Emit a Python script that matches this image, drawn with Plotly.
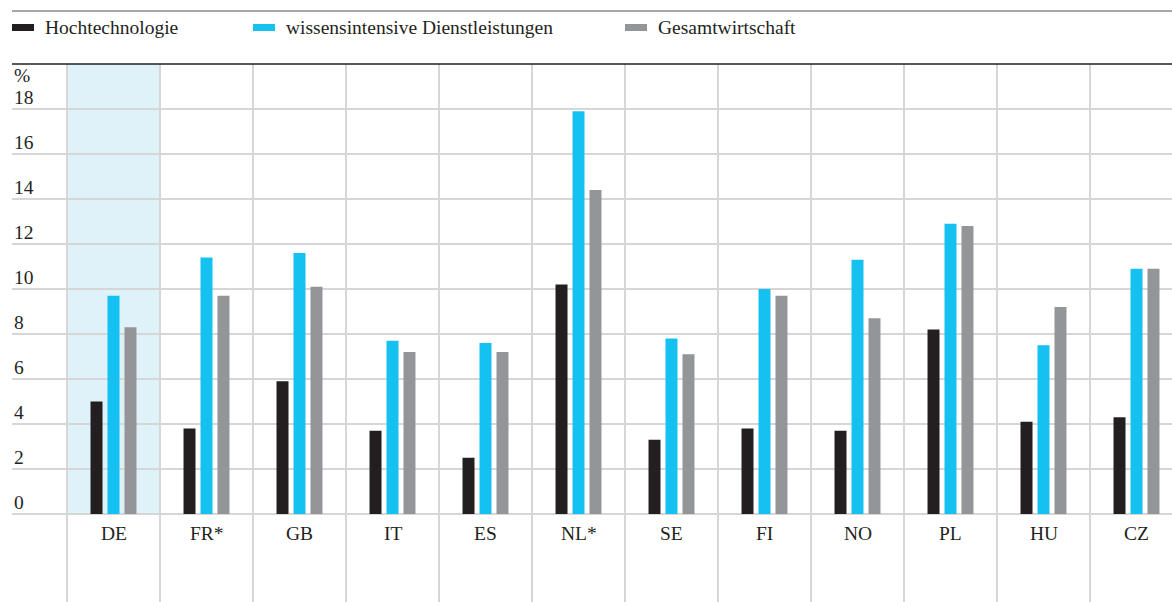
import plotly.graph_objects as go

countries = ["DE", "FR*", "GB", "IT", "ES", "NL*", "SE", "FI", "NO", "PL", "HU", "CZ"]
hochtechnologie = [5.0, 3.8, 5.9, 3.7, 2.5, 10.2, 3.3, 3.8, 3.7, 8.2, 4.1, 4.3]
dienstleistungen = [9.7, 11.4, 11.6, 7.7, 7.6, 17.9, 7.8, 10.0, 11.3, 12.9, 7.5, 10.9]
gesamtwirtschaft = [8.3, 9.7, 10.1, 7.2, 7.2, 14.4, 7.1, 9.7, 8.7, 12.8, 9.2, 10.9]
y_ticks = [0, 2, 4, 6, 8, 10, 12, 14, 16, 18]

names = ["Hochtechnologie", "wissensintensive Dienstleistungen", "Gesamtwirtschaft"]
colors = ["#231f20", "#15c1f0", "#939598"]
series = [hochtechnologie, dienstleistungen, gesamtwirtschaft]

W, H = 1172, 602
ml, mt = 12, 64
font = "Liberation Serif, Times New Roman, serif"
txt = "#231f20"

x = list(range(len(countries)))

fig = go.Figure()
for name, vals, col in zip(names, series, colors):
    fig.add_trace(go.Bar(x=x, y=vals, name=name, marker=dict(color=col, line=dict(width=0)),
                         showlegend=False))

# column width 93px, plot starts at x=12, first column at x=67
x0 = -0.5 - 55 / 93
x1 = -0.5 + (W - 67) / 93
y_top = 20
y_bot = y_top - (H - mt) / 22.5

fig.update_layout(
    width=W, height=H,
    margin=dict(l=ml, r=0, t=mt, b=0),
    paper_bgcolor="white", plot_bgcolor="white",
    barmode="group", bargap=0.452, bargroupgap=0.294,
    font=dict(family=font, size=19.5, color=txt),
    xaxis=dict(range=[x0, x1], showticklabels=False, showgrid=False, zeroline=False,
               minor=dict(tickvals=[i - 0.5 for i in range(len(countries) + 1)],
                          showgrid=True, gridcolor="#d6d6d6", gridwidth=1.5, ticks="")),
    yaxis=dict(range=[y_bot, y_top], tickvals=y_ticks, showticklabels=False,
               showgrid=True, gridcolor="#d6d6d6", gridwidth=1.5, zeroline=False),
)

# highlighted DE column
fig.add_shape(type="rect", xref="x", yref="y", x0=-0.5, x1=0.5, y0=0, y1=y_top,
              fillcolor="#dff1f9", line=dict(width=0), layer="below")

# top rules
fig.add_shape(type="line", xref="paper", yref="paper", x0=0, x1=1, y0=1, y1=1,
              line=dict(color="#231f20", width=1.5))
fig.add_shape(type="line", xref="paper", yref="paper", x0=0, x1=1,
              y0=(H - 11) / (H - mt), y1=(H - 11) / (H - mt),
              line=dict(color="#8a8a8a", width=1.5))

# y tick labels above gridlines
for v in y_ticks:
    fig.add_annotation(x=0, xref="paper", y=v, yref="y", text=str(v), showarrow=False,
                       xanchor="left", yanchor="bottom", xshift=0, yshift=-1)
fig.add_annotation(x=0, xref="paper", y=18, yref="y", text="%", showarrow=False,
                   xanchor="left", yanchor="bottom", yshift=21)

# country labels
for i, c in enumerate(countries):
    fig.add_annotation(x=i, y=0, text=c, showarrow=False, yanchor="top", yshift=-7)

# legend
leg_x = [12, 253, 625]
pw = W - ml
ly = (H - 27) / (H - mt)
for lx, name, col in zip(leg_x, names, colors):
    fig.add_shape(type="rect", xref="paper", yref="paper",
                  x0=(lx - ml) / pw, x1=(lx + 22 - ml) / pw,
                  y0=(H - 31) / (H - mt), y1=(H - 24) / (H - mt),
                  fillcolor=col, line=dict(width=0))
    fig.add_annotation(xref="paper", yref="paper", x=(lx + 31 - ml) / pw, y=ly,
                       text=name, showarrow=False, xanchor="left", yanchor="middle")

fig.write_html("out.html", config={"displayModeBar": False},
               post_script="document.body.style.margin='0';")
